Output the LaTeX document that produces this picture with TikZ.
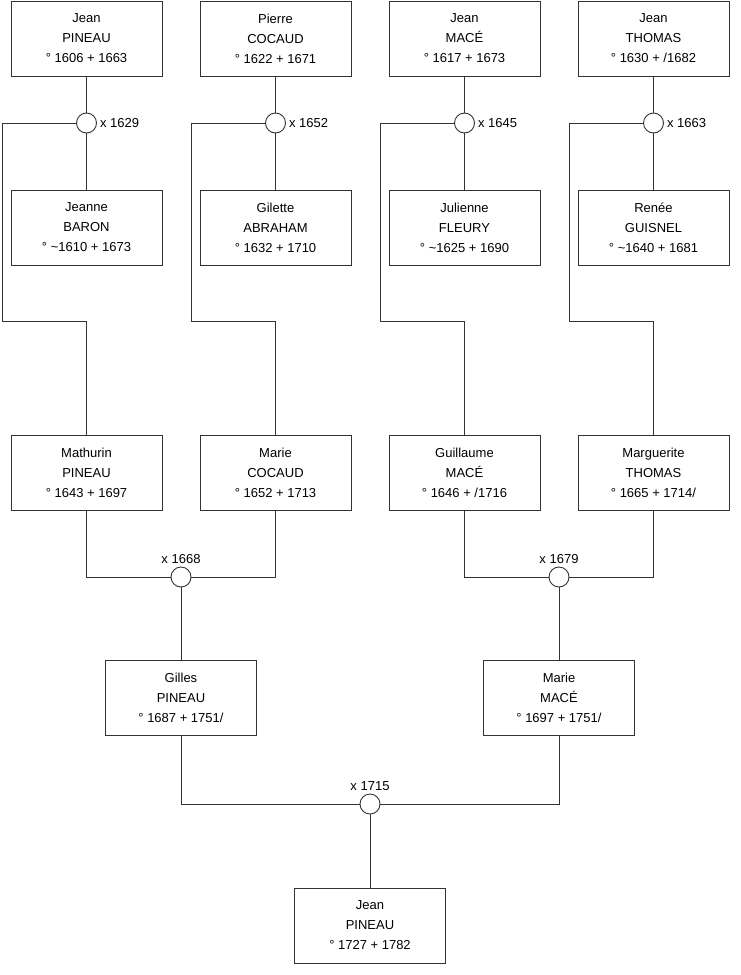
\documentclass[tikz,border=0pt]{standalone}
\usepackage{fontspec}
\setmainfont{Liberation Sans}
\usepackage{xcolor}
\usepackage{tikz}
\usetikzlibrary{
    positioning
}

\begin{document}
\begin{tikzpicture}[
    x=1pt, y=-1pt,
    person/.style={
        rectangle,
        draw=black!80,
        line width=0.9pt,
        outer sep=0pt,
        align=center,
        minimum width=151pt,
        minimum height=75pt,
        font=\fontsize{13}{20}\selectfont
    },
    marriage/.style={
        circle,
        draw=black!80,
        line width=0.9pt,
        outer sep=0pt,
        minimum size=20pt,
        inner sep=0pt
    },
    every label/.style={
        font=\fontsize{13}{16}\selectfont
    },
    link/.style={
        draw=black!80,
        line width=0.9pt
    }
]

\useasboundingbox (0,0) rectangle (740,975);

% ============================================================
% GREAT-GRANDPARENTS
% ============================================================

\node[person] at (86.5,38.5) (jeanP)
{
Jean\\
PINEAU\\
° 1606 + 1663
};

\node[person, right=38pt of jeanP] (pierreC)
{
Pierre\\
COCAUD\\
° 1622 + 1671
};

\node[person, right=38pt of pierreC] (jeanM)
{
Jean\\
MACÉ\\
° 1617 + 1673
};

\node[person, right=38pt of jeanM] (jeanT)
{
Jean\\
THOMAS\\
° 1630 + /1682
};

% ============================================================
% FIRST MARRIAGES
% ============================================================

\node[marriage, below=37pt of jeanP, label={right:x 1629}] (m1629) {};
\node[marriage, below=37pt of pierreC, label={right:x 1652}] (m1652) {};
\node[marriage, below=37pt of jeanM, label={right:x 1645}] (m1645) {};
\node[marriage, below=37pt of jeanT, label={right:x 1663}] (m1663) {};

\node[person, below=57pt of m1629] (jeanneB)
{
Jeanne\\
BARON\\
° \textasciitilde1610 + 1673
};

\node[person, below=57pt of m1652] (giletteA)
{
Gilette\\
ABRAHAM\\
° 1632 + 1710
};

\node[person, below=57pt of m1645] (julienneF)
{
Julienne\\
FLEURY\\
° \textasciitilde1625 + 1690
};

\node[person, below=57pt of m1663] (reneeG)
{
Renée\\
GUISNEL\\
° \textasciitilde1640 + 1681
};

% ============================================================
% GRANDPARENTS
% ============================================================

\node[person, below=170pt of jeanneB] (mathurinP)
{
Mathurin\\
PINEAU\\
° 1643 + 1697
};

\node[person, below=170pt of giletteA] (marieC)
{
Marie\\
COCAUD\\
° 1652 + 1713
};

\node[person, below=170pt of julienneF] (guillaumeM)
{
Guillaume\\
MACÉ\\
° 1646 + /1716
};

\node[person, below=170pt of reneeG] (margueriteT)
{
Marguerite\\
THOMAS\\
° 1665 + 1714/
};

\coordinate (bend1) at (2,321);
\coordinate (bend2) at (191,321);
\coordinate (bend3) at (380,321);
\coordinate (bend4) at (569,321);

% ============================================================
% PARENTS
% ============================================================

\node[marriage, below=57pt of mathurinP, xshift=94.5pt,
      label={above:x 1668}] (m1668) {};

\node[marriage, below=57pt of guillaumeM, xshift=94.5pt,
      label={above:x 1679}] (m1679) {};

\node[person, below=73pt of m1668] (gillesP)
{
Gilles\\
PINEAU\\
° 1687 + 1751/
};

\node[person, below=73pt of m1679] (marieM)
{
Marie\\
MACÉ\\
° 1697 + 1751/
};

% ============================================================
% CHILD
% ============================================================

\node[marriage, below=59pt of gillesP, xshift=189pt,
      label={above:x 1715}] (m1715) {};

\node[person, below=74pt of m1715] (jeanF)
{
Jean\\
PINEAU\\
° 1727 + 1782
};

% ============================================================
% CONNECTIONS
% ============================================================

\draw[link] (jeanP) -- (m1629);
\draw[link] (pierreC) -- (m1652);
\draw[link] (jeanM) -- (m1645);
\draw[link] (jeanT) -- (m1663);

\draw[link] (m1629) -- (jeanneB);
\draw[link] (m1652) -- (giletteA);
\draw[link] (m1645) -- (julienneF);
\draw[link] (m1663) -- (reneeG);

\draw[link] (m1629.west) -| (bend1) -| (mathurinP.north);
\draw[link] (m1652.west) -| (bend2) -| (marieC.north);
\draw[link] (m1645.west) -| (bend3) -| (guillaumeM.north);
\draw[link] (m1663.west) -| (bend4) -| (margueriteT.north);

\draw[link] (mathurinP.south) |- (m1668.west);
\draw[link] (marieC.south) |- (m1668.east);
\draw[link] (guillaumeM.south) |- (m1679.west);
\draw[link] (margueriteT.south) |- (m1679.east);

\draw[link] (m1668) -- (gillesP);
\draw[link] (m1679) -- (marieM);

\draw[link] (gillesP.south) |- (m1715.west);
\draw[link] (marieM.south) |- (m1715.east);
\draw[link] (m1715) -- (jeanF);

\end{tikzpicture}
\end{document}
